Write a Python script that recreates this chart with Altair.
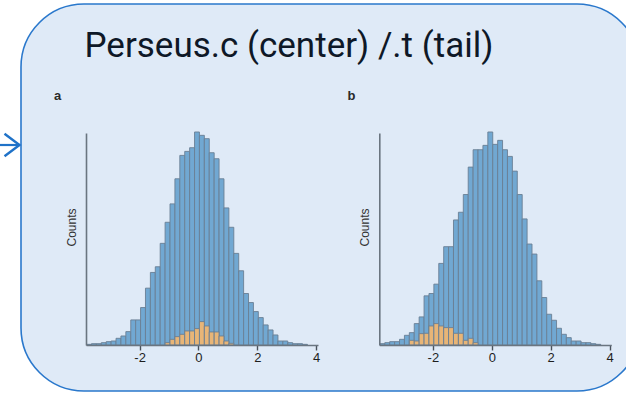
import altair as alt
import pandas as pd

# ---------------- data ----------------
BIN_START = -3.8
BIN_WIDTH = 1 / 6

# panel a: all counts (blue) and the "center" subset (orange)
counts_a = [2, 4, 4, 7, 10, 12, 20, 27, 40, 75, 75, 112, 170, 217, 234, 304, 367,
            422, 497, 567, 579, 590, 637, 627, 617, 575, 557, 497, 410, 352, 274,
            222, 154, 127, 100, 82, 60, 45, 30, 12, 12, 7, 4, 4, 2]
center_a = [7, 17, 25, 32, 42, 42, 49, 70, 57, 39, 39, 27, 12, 5]
CENTER_A_FIRST_BIN = 16

# panel b: all counts (blue) and the "tail" subset (orange)
counts_b = [4, 7, 10, 10, 17, 29, 37, 64, 84, 147, 154, 182, 244, 294, 294, 374,
            397, 450, 532, 584, 584, 597, 637, 600, 612, 584, 564, 520, 450, 377,
            302, 272, 192, 142, 92, 74, 50, 32, 22, 12, 12, 7, 7, 4, 2]
tail_b = [14, 12, 34, 35, 57, 64, 57, 52, 52, 35, 35, 14, 20, 7]
TAIL_B_FIRST_BIN = 6

X_TICKS = [-2, 0, 2, 4]
X_DOMAIN = [-3.82, 4.06]
Y_DOMAIN = [0, 634]

TITLE = "Perseus.c (center) /.t (tail)"
PANEL_LABELS = ["a", "b"]
Y_TITLE = "Counts"

# ---------------- styling / layout ----------------
W, H = 626, 393
PANEL_LEFT = [86, 379.3]
PANEL_W = 232
PLOT_TOP, PLOT_BOTTOM = 133, 345

BLUE = "#71a8d2"
ORANGE = "#e8b577"
BAR_STROKE = "#6a7f94"
AXIS_COLOR = "#6a7580"
BOX_FILL = "#dfeaf7"
BOX_STROKE = "#2a78cc"
ARROW_COLOR = "#1f72c8"
TEXT_DARK = "#0e1827"


def hist_df(counts, first_bin=0):
    rows = []
    for i, c in enumerate(counts):
        k = first_bin + i
        rows.append({"x0": BIN_START + k * BIN_WIDTH,
                     "x1": BIN_START + (k + 1) * BIN_WIDTH,
                     "base": 0,
                     "count": c})
    return pd.DataFrame(rows)


def bars(df, color, left, with_axes):
    xscale = alt.Scale(domain=X_DOMAIN, range=[left, left + PANEL_W], nice=False, zero=False)
    yscale = alt.Scale(domain=Y_DOMAIN, range=[PLOT_BOTTOM, PLOT_TOP], nice=False, zero=False)
    if with_axes:
        xaxis = alt.Axis(orient="bottom", offset=PLOT_BOTTOM - H, values=X_TICKS,
                         labelExpr="'' + datum.value", title=None, grid=False,
                         tickSize=5, tickColor="#4a525c", tickWidth=1.4,
                         domainColor=AXIS_COLOR, domainWidth=1.6,
                         labelFont="Liberation Sans", labelFontSize=13,
                         labelColor="#1e1e1e", labelPadding=1, zindex=2)
        yaxis = alt.Axis(orient="left", offset=-left, ticks=False, labels=False,
                         title=None, grid=False, domainColor=AXIS_COLOR,
                         domainWidth=1.6, zindex=2)
    else:
        xaxis = None
        yaxis = None
    return alt.Chart(df).mark_bar(fill=color, stroke=BAR_STROKE, strokeWidth=0.9).encode(
        x=alt.X("x0:Q", scale=xscale, axis=xaxis),
        x2="x1:Q",
        y=alt.Y("count:Q", scale=yscale, axis=yaxis),
        y2="base:Q",
    )


one = pd.DataFrame({"k": [0]})

box = alt.Chart(one).mark_rect(
    cornerRadius=63, fill=BOX_FILL, stroke=BOX_STROKE, strokeWidth=1.6
).encode(x=alt.value(21), x2=alt.value(640), y=alt.value(4), y2=alt.value(391))

arrow_shaft = alt.Chart(one).mark_rule(stroke=ARROW_COLOR, strokeWidth=2.2).encode(
    x=alt.value(0), x2=alt.value(20), y=alt.value(145))

arrow_head = alt.Chart(one).mark_point(
    shape="M-1,-0.75L0,0L-1,0.75", size=900, filled=False, stroke=ARROW_COLOR,
    strokeWidth=2.4, opacity=1, strokeJoin="miter"
).encode(x=alt.value(19.5), y=alt.value(145))

title = alt.Chart(pd.DataFrame({"t": [TITLE]})).mark_text(
    align="left", baseline="alphabetic", font="Roboto", fontSize=35, color=TEXT_DARK
).encode(x=alt.value(84.5), y=alt.value(56.7), text="t:N")

label_a = alt.Chart(pd.DataFrame({"t": [PANEL_LABELS[0]]})).mark_text(
    align="left", baseline="alphabetic", font="Liberation Sans", fontSize=13,
    fontWeight="bold", color="#2a2a2a"
).encode(x=alt.value(54), y=alt.value(99.5), text="t:N")

label_b = alt.Chart(pd.DataFrame({"t": [PANEL_LABELS[1]]})).mark_text(
    align="left", baseline="alphabetic", font="Liberation Sans", fontSize=13,
    fontWeight="bold", color="#2a2a2a"
).encode(x=alt.value(347.5), y=alt.value(99.5), text="t:N")

ytitle_df = pd.DataFrame({"t": [Y_TITLE]})
ytitle_a = alt.Chart(ytitle_df).mark_text(
    angle=270, align="center", baseline="middle", font="Liberation Sans",
    fontSize=12, color="#333333"
).encode(x=alt.value(71.7), y=alt.value(227.5), text="t:N")
ytitle_b = alt.Chart(ytitle_df).mark_text(
    angle=270, align="center", baseline="middle", font="Liberation Sans",
    fontSize=12, color="#333333"
).encode(x=alt.value(364.5), y=alt.value(227.5), text="t:N")

layers = [
    box, arrow_shaft, arrow_head, title, label_a, label_b, ytitle_a, ytitle_b,
    bars(hist_df(counts_a), BLUE, PANEL_LEFT[0], True),
    bars(hist_df(center_a, CENTER_A_FIRST_BIN), ORANGE, PANEL_LEFT[0], False),
    bars(hist_df(counts_b), BLUE, PANEL_LEFT[1], True),
    bars(hist_df(tail_b, TAIL_B_FIRST_BIN), ORANGE, PANEL_LEFT[1], False),
]

chart = alt.layer(*layers).resolve_scale(
    x="independent", y="independent"
).properties(
    width=W, height=H, autosize="none", padding=0, background="white"
).configure_view(strokeWidth=0)

chart.save("out.html", embed_options={"renderer": "svg", "actions": False})
